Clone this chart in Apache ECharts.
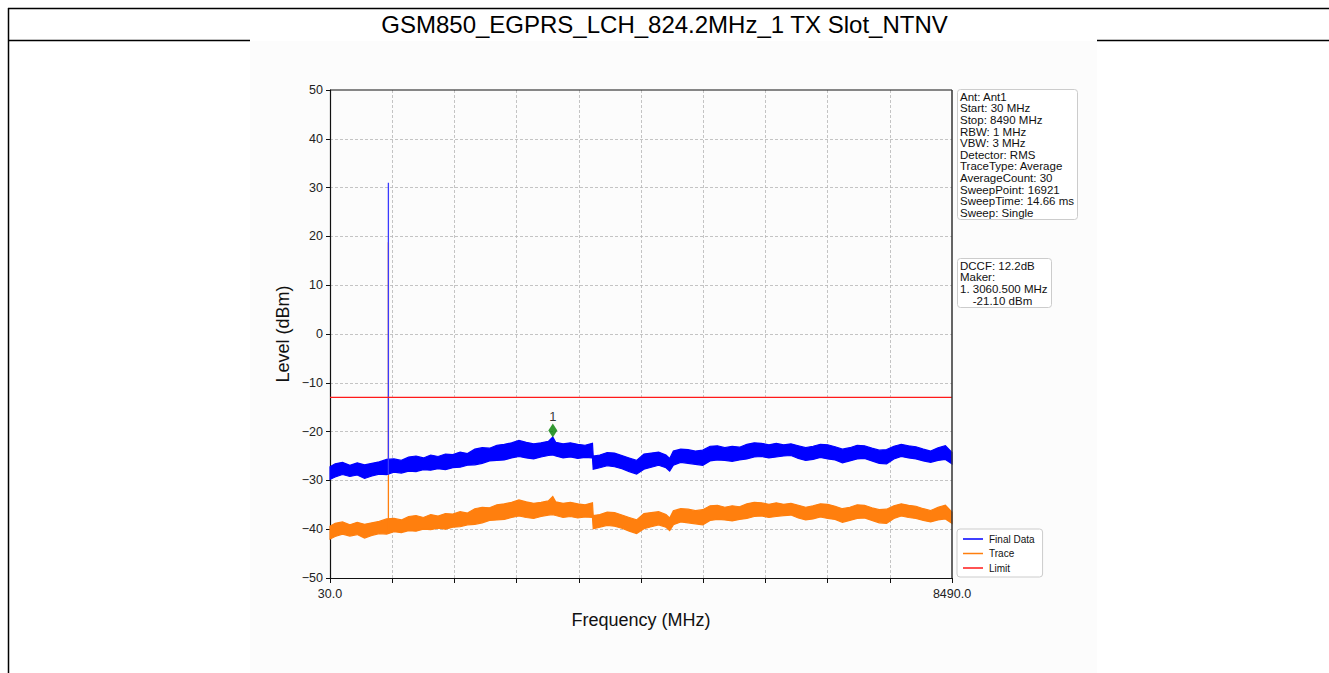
<!DOCTYPE html>
<html>
<head>
<meta charset="utf-8">
<script src="https://cdn.jsdelivr.net/npm/echarts@6/dist/echarts.min.js"></script>
<style>
html,body{margin:0;padding:0;background:#fff;}
#chart{width:1329px;height:673px;}
</style>
</head>
<body>
<div id="chart"></div>
<script>
// ---------------- data ----------------
const pageTitle = 'GSM850_EGPRS_LCH_824.2MHz_1 TX Slot_NTNV';
const freqMHz = [30,100,200,300,400,500,600,700,800,900,1000,1100,1200,1300,1400,1500,1600,1700,1800,1900,2000,2100,2200,2300,2400,2500,2600,2700,2800,2900,3000,3060,3100,3200,3300,3400,3500,3600,3610,3700,3800,3900,4000,4100,4200,4300,4400,4500,4600,4650,4700,4800,4900,5000,5100,5200,5300,5400,5500,5600,5700,5800,5900,6000,6100,6200,6300,6400,6500,6600,6700,6800,6900,7000,7100,7200,7300,7400,7500,7600,7700,7800,7900,8000,8100,8200,8300,8400,8490];
// Final Data: upper / lower envelope of the noisy trace (dBm)
const finalTop = [-27.2,-26.6,-26.3,-26.9,-26.4,-26.8,-26.5,-26.2,-25.7,-25.6,-25.9,-25.2,-25.0,-25.4,-24.8,-25.1,-24.6,-24.7,-24.2,-24.5,-23.6,-23.3,-23.4,-22.8,-22.6,-22.3,-21.8,-22.2,-22.5,-22.3,-22.0,-21.1,-22.2,-22.5,-22.3,-22.6,-22.8,-22.4,-25.0,-24.8,-24.3,-24.4,-24.9,-25.4,-25.9,-24.6,-24.4,-24.2,-24.8,-25.5,-24.0,-23.6,-23.7,-24.0,-23.8,-23.0,-22.9,-23.3,-23.0,-23.2,-22.6,-22.3,-22.4,-22.7,-22.4,-22.7,-22.5,-22.9,-23.3,-23.0,-22.6,-22.7,-23.1,-23.6,-23.3,-22.8,-22.9,-23.4,-23.8,-23.7,-23.0,-22.6,-22.9,-23.1,-23.6,-24.0,-23.3,-22.9,-24.3];
const finalBottom = [-29.8,-29.3,-28.8,-29.2,-28.9,-29.6,-29.1,-28.7,-28.8,-28.3,-28.5,-28.1,-28.2,-27.8,-27.9,-27.6,-27.8,-27.4,-27.3,-26.9,-26.8,-26.5,-26.0,-25.9,-25.8,-25.4,-25.1,-25.4,-25.6,-25.2,-24.9,-24.8,-25.0,-25.4,-25.2,-25.5,-25.3,-25.4,-27.7,-27.4,-27.0,-27.2,-27.6,-28.2,-28.7,-27.7,-27.3,-26.9,-27.4,-28.1,-26.9,-26.3,-26.5,-26.7,-26.9,-26.0,-25.8,-25.9,-26.1,-25.8,-25.6,-25.2,-25.1,-25.4,-25.2,-25.0,-24.9,-25.5,-25.9,-25.7,-25.3,-25.6,-25.8,-26.4,-26.0,-25.6,-25.5,-26.0,-26.5,-26.6,-25.6,-25.1,-25.4,-25.6,-26.0,-26.3,-25.9,-25.7,-26.6];
// Trace: upper / lower envelope (dBm)
const traceTop = [-39.4,-38.8,-38.5,-39.1,-38.6,-39.0,-38.7,-38.4,-37.9,-37.8,-38.1,-37.4,-37.2,-37.6,-37.0,-37.3,-36.8,-36.9,-36.4,-36.7,-35.8,-35.5,-35.6,-35.0,-34.8,-34.5,-34.0,-34.4,-34.7,-34.5,-34.2,-33.3,-34.4,-34.7,-34.5,-34.8,-35.0,-34.6,-37.2,-37.0,-36.5,-36.6,-37.1,-37.6,-38.1,-36.8,-36.6,-36.4,-37.0,-37.7,-36.2,-35.8,-35.9,-36.2,-36.0,-35.2,-35.1,-35.5,-35.2,-35.4,-34.8,-34.5,-34.6,-34.9,-34.6,-34.9,-34.7,-35.1,-35.5,-35.2,-34.8,-34.9,-35.3,-35.8,-35.5,-35.0,-35.1,-35.6,-36.0,-35.9,-35.2,-34.8,-35.1,-35.3,-35.8,-36.2,-35.5,-35.1,-36.5];
const traceBottom = [-42.0,-41.5,-41.0,-41.4,-41.1,-41.8,-41.3,-40.9,-41.0,-40.5,-40.7,-40.3,-40.4,-40.0,-40.1,-39.8,-40.0,-39.6,-39.5,-39.1,-39.0,-38.7,-38.2,-38.1,-38.0,-37.6,-37.3,-37.6,-37.8,-37.4,-37.1,-37.0,-37.2,-37.6,-37.4,-37.7,-37.5,-37.6,-39.9,-39.6,-39.2,-39.4,-39.8,-40.4,-40.9,-39.9,-39.5,-39.1,-39.6,-40.3,-39.1,-38.5,-38.7,-38.9,-39.1,-38.2,-38.0,-38.1,-38.3,-38.0,-37.8,-37.4,-37.3,-37.6,-37.4,-37.2,-37.1,-37.7,-38.1,-37.9,-37.5,-37.8,-38.0,-38.6,-38.2,-37.8,-37.7,-38.2,-38.7,-38.8,-37.8,-37.3,-37.6,-37.8,-38.2,-38.5,-38.1,-37.9,-38.8];
// carrier spike
const spikeFreq = 824.2;
const finalSpike = [-28.8, 31.0];
const traceSpike = [-41.0, 18.8];
// limit line
const limitFreq = [30, 8490];
const limitLevel = [-13, -13];
// marker
const markerFreq = 3060.5;
const markerPlotLevel = -19.8;
const markerLabel = '1';
// axes
const xMin = 30, xMax = 8490, xStep = 846;
const yMin = -50, yMax = 50, yStep = 10;
const infoLines = ['Ant: Ant1','Start: 30 MHz','Stop: 8490 MHz','RBW: 1 MHz','VBW: 3 MHz','Detector: RMS','TraceType: Average','AverageCount: 30','SweepPoint: 16921','SweepTime: 14.66 ms','Sweep: Single'];
const markerLines = ['DCCF: 12.2dB','Maker:','1. 3060.500 MHz','    -21.10 dBm'];
const legendNames = ['Final Data','Trace','Limit'];

// ---------------- build ----------------
const BLUE = '#0000ff', ORANGE = '#ff7f0e', RED = '#ff1a1a';
const FONT = '"Liberation Sans", Arial, Helvetica, sans-serif';

// band drawn as one polygon through the axis scales (api.coord)
function bandSeries(name, top, bot, color, z) {
  const rows = freqMHz.map((f, i) => [f, top[i], bot[i]]);
  return {
    name: name, type: 'custom', z: z, silent: true, animation: false,
    coordinateSystem: 'cartesian2d',
    encode: { x: 0, y: [1, 2] },
    data: rows,
    itemStyle: { color: color },
    renderItem: function (params, api) {
      if (params.dataIndex !== 0) return null;
      const upper = rows.map((r) => api.coord([r[0], r[1]]));
      const lower = rows.slice().reverse().map((r) => api.coord([r[0], r[2]]));
      return {
        type: 'polygon',
        shape: { points: upper.concat(lower) },
        style: { fill: color, stroke: color, lineWidth: 1.2, lineJoin: 'miter' }
      };
    }
  };
}

const boxText = { fontFamily: FONT, fontSize: 11.5, lineHeight: 11.6, fontWeight: 'normal', color: '#111' };

const chart = echarts.init(document.getElementById('chart'), null, { renderer: 'svg' });

const option = {
  backgroundColor: '#ffffff',
  animation: false,
  textStyle: { fontFamily: FONT },
  title: [
    {
      text: pageTitle, left: 'center', top: 12, padding: 0,
      textStyle: { fontFamily: FONT, fontSize: 24, fontWeight: 'normal', color: '#000' }
    },
    {
      text: infoLines.join('\n'), left: 957, top: 89, padding: [2, 4, 1, 3],
      backgroundColor: '#ffffff', borderColor: '#cccccc', borderWidth: 1, borderRadius: 3,
      textStyle: boxText
    },
    {
      text: markerLines.join('\n'), left: 957, top: 258, padding: [2, 4, 1, 3],
      backgroundColor: '#ffffff', borderColor: '#cccccc', borderWidth: 1, borderRadius: 3,
      textStyle: boxText
    }
  ],
  graphic: [
    { type: 'rect', shape: { x: 250, y: 41, width: 847, height: 640 }, style: { fill: '#fcfcfc' }, z: -10, silent: true },
    { type: 'line', shape: { x1: 8, y1: 8.5, x2: 1329, y2: 8.5 }, style: { stroke: '#000', lineWidth: 1.5 }, silent: true },
    { type: 'line', shape: { x1: 8.5, y1: 8, x2: 8.5, y2: 673 }, style: { stroke: '#000', lineWidth: 1.5 }, silent: true },
    { type: 'line', shape: { x1: 8, y1: 40.5, x2: 250, y2: 40.5 }, style: { stroke: '#000', lineWidth: 1.5 }, silent: true },
    { type: 'line', shape: { x1: 1097, y1: 40.5, x2: 1329, y2: 40.5 }, style: { stroke: '#000', lineWidth: 1.5 }, silent: true },
    // plot frame top and right edges, drawn above the grid lines
    { type: 'line', shape: { x1: 330, y1: 90, x2: 952, y2: 90 }, style: { stroke: '#111', lineWidth: 1.2 }, z: 50, silent: true },
    { type: 'line', shape: { x1: 952, y1: 90, x2: 952, y2: 578 }, style: { stroke: '#333', lineWidth: 1.5 }, z: 50, silent: true }
  ],
  legend: {
    data: [
      { name: legendNames[0], itemStyle: { color: BLUE } },
      { name: legendNames[1], itemStyle: { color: ORANGE } },
      { name: legendNames[2], itemStyle: { color: RED } }
    ],
    orient: 'vertical', left: 957, top: 529,
    icon: 'rect', itemWidth: 20, itemHeight: 1.5, itemGap: 4.5,
    padding: [5, 8, 4, 6],
    backgroundColor: '#ffffff', borderColor: '#cccccc', borderWidth: 1, borderRadius: 3,
    selectedMode: false,
    textStyle: { fontFamily: FONT, fontSize: 10, color: '#111', padding: [0, 0, 0, 1] }
  },
  grid: {
    left: 330, top: 90, width: 622, height: 488,
    show: false, containLabel: false
  },
  xAxis: {
    type: 'value', min: xMin, max: xMax, interval: xStep,
    name: 'Frequency (MHz)', nameLocation: 'middle', nameGap: 33,
    nameTextStyle: { fontFamily: FONT, fontSize: 18, color: '#111' },
    axisLine: { show: true, onZero: false, lineStyle: { color: '#111', width: 1.2 } },
    axisTick: { show: true, inside: false, length: 5, lineStyle: { color: '#111', width: 1 } },
    axisLabel: {
      margin: 9, fontFamily: FONT, fontSize: 12.5, color: '#222', showMinLabel: true, showMaxLabel: true,
      formatter: (v) => (Math.abs(v - xMin) < 1e-6 || Math.abs(v - xMax) < 1e-6) ? v.toFixed(1) : ''
    },
    splitLine: { show: true, showMinLine: false, showMaxLine: false, lineStyle: { color: '#b5b5b5', type: [3, 2], width: 0.8 } }
  },
  yAxis: {
    type: 'value', min: yMin, max: yMax, interval: yStep,
    name: 'Level (dBm)', nameLocation: 'middle', nameGap: 38, nameRotate: 90,
    nameTextStyle: { fontFamily: FONT, fontSize: 18, color: '#111' },
    axisLine: { show: true, onZero: false, lineStyle: { color: '#111', width: 1.2 } },
    axisTick: { show: true, inside: false, length: 4, lineStyle: { color: '#111', width: 1 } },
    axisLabel: {
      margin: 7, fontFamily: FONT, fontSize: 12.5, color: '#222',
      formatter: (v) => (v < 0 ? '\u2212' + Math.abs(v) : String(v))
    },
    splitLine: { show: true, showMinLine: false, showMaxLine: false, lineStyle: { color: '#b5b5b5', type: [3, 2], width: 0.8 } }
  },
  series: [
    bandSeries(legendNames[1], traceTop, traceBottom, ORANGE, 2),
    {
      name: legendNames[1], type: 'line', data: [[spikeFreq, traceSpike[0]], [spikeFreq, traceSpike[1]]],
      symbol: 'none', z: 2, lineStyle: { color: ORANGE, width: 1.3 }, itemStyle: { color: ORANGE }, silent: true
    },
    bandSeries(legendNames[0], finalTop, finalBottom, BLUE, 3),
    {
      name: legendNames[0], type: 'line', data: [[spikeFreq, finalSpike[0]], [spikeFreq, finalSpike[1]]],
      symbol: 'none', z: 4, lineStyle: { color: '#3a3aff', width: 1.3 }, itemStyle: { color: BLUE }, silent: true
    },
    {
      name: legendNames[2], type: 'line', data: limitFreq.map((f, i) => [f, limitLevel[i]]),
      symbol: 'none', z: 5, lineStyle: { color: RED, width: 1.2 }, itemStyle: { color: RED }, silent: true
    },
    {
      name: 'Marker', type: 'scatter', data: [[markerFreq, markerPlotLevel]],
      symbol: 'diamond', symbolSize: [9, 14], z: 6,
      itemStyle: { color: '#008000' },
      label: { show: true, position: 'top', distance: 1, formatter: markerLabel, fontFamily: FONT, fontSize: 13, color: '#000', textBorderWidth: 0 },
      silent: true
    }
  ]
};

chart.setOption(option);
</script>
</body>
</html>
